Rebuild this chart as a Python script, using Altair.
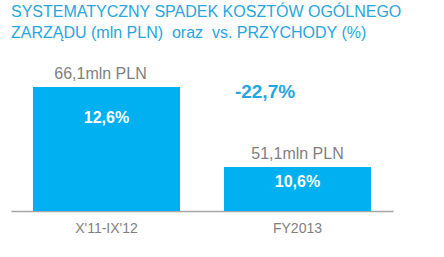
import altair as alt
import pandas as pd

# Overhead costs (mln PLN) and their share of revenue (%)
periods = ["X'11-IX'12", "FY2013"]
costs_mln = [66.1, 51.1]
share_pct = [12.6, 10.6]

df = pd.DataFrame({"period": periods, "cost": costs_mln, "share": share_pct})
df["cost_label"] = df["cost"].map(lambda v: f"{v:.1f}".replace(".", ",") + "mln PLN")
df["share_label"] = df["share"].map(lambda v: f"{v:.1f}".replace(".", ",") + "%")

change = (costs_mln[1] - costs_mln[0]) / costs_mln[0] * 100
change_label = f"{change:.1f}".replace(".", ",") + "%"

FONT = "Liberation Sans"
BAR = "#00B0F0"
BLUE = "#27A6DE"
GREY = "#7F7F7F"

x = alt.X(
    "period:N",
    sort=periods,
    title=None,
    scale=alt.Scale(paddingInner=0.23, paddingOuter=0.115),
    axis=alt.Axis(
        labelAngle=0, labelFont=FONT, labelFontSize=14, labelColor=GREY,
        labelPadding=10, ticks=False, grid=False,
        domainColor="#A6A6A6", domainWidth=1.5,
    ),
)
y = alt.Y("cost:Q", title=None, axis=None,
          scale=alt.Scale(domain=[42.85, 67.4], zero=False, clamp=True))

base = alt.Chart(df).encode(x=x, y=y)

bars = base.mark_bar(color=BAR)


def bar_labels(period, cost_dx, share_dy):
    sub = base.transform_filter(alt.datum.period == period)
    cost = sub.mark_text(
        font=FONT, fontSize=16, color=GREY, baseline="bottom", dy=-5, dx=cost_dx
    ).encode(text="cost_label:N")
    share = sub.mark_text(
        font=FONT, fontSize=16, fontWeight="bold", color="white",
        baseline="middle", dy=share_dy
    ).encode(text="share_label:N")
    return [cost, share]


labels = bar_labels(periods[0], -6, 31) + bar_labels(periods[1], 0, 15)

change_text = alt.Chart(pd.DataFrame({"t": [change_label]})).mark_text(
    font=FONT, fontSize=19, fontWeight="bold", color=BLUE, baseline="middle"
).encode(x=alt.value(254), y=alt.value(12), text="t:N")

NBSP = "\u00a0"
chart = (
    alt.layer(bars, *labels, change_text)
    .properties(
        width=382,
        height=131,
        background="white",
        autosize=alt.AutoSizeParams(type="none"),
        padding={"left": 11, "top": 80, "right": 51, "bottom": 46},
        title=alt.TitleParams(
            text=["SYSTEMATYCZNY SPADEK KOSZTÓW OGÓLNEGO",
                  f"ZARZĄDU (mln PLN) {NBSP}oraz {NBSP}vs. PRZYCHODY (%)"],
            font=FONT, fontSize=16, fontWeight="normal", color=BLUE,
            anchor="start", frame="group", lineHeight=21, offset=25,
        ),
    )
    .configure_view(strokeWidth=0, strokeOpacity=0)
    .configure_axis(grid=False)
)

chart.save("out.html", embed_options={"renderer": "svg", "actions": False})
